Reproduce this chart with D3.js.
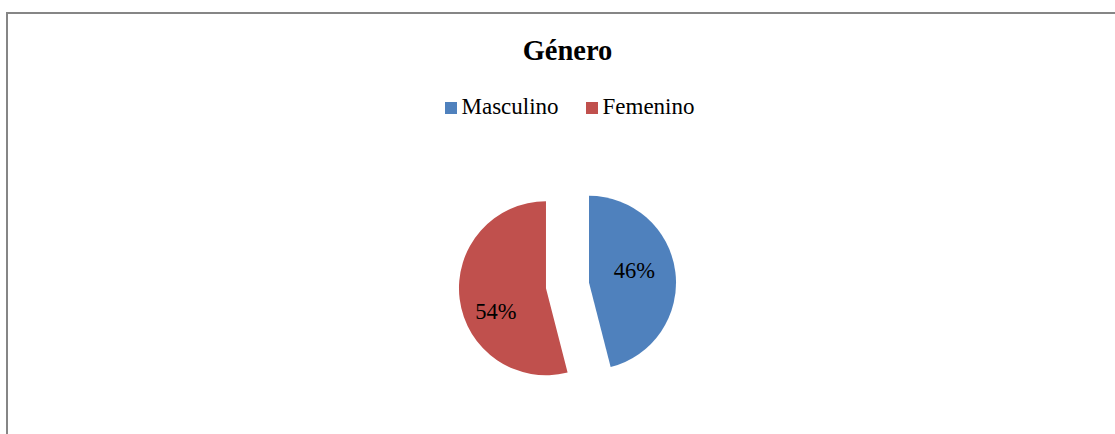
<!DOCTYPE html>
<html>
<head>
<meta charset="utf-8">
<script src="https://cdn.jsdelivr.net/npm/d3@7"></script>
<style>
  html, body { margin: 0; padding: 0; background: #fff; }
  text { font-family: 'Liberation Serif', 'Times New Roman', Times, serif; }
</style>
</head>
<body>
<svg id="chart"></svg>
<script>
const categories = ['Masculino', 'Femenino']
const values = [46, 54]
const colors = ['#4F81BD', '#C0504D']
const title = 'Género'

const width = 1115, height = 434

const svg = d3.select('#chart')
  .attr('width', width)
  .attr('height', height)

// chart frame (only top and left edges fall inside the picture)
svg.append('rect')
  .attr('x', 7).attr('y', 13)
  .attr('width', width + 10).attr('height', height + 10)
  .attr('fill', 'none')
  .attr('stroke', '#868686')
  .attr('stroke-width', 2)

svg.append('text')
  .attr('x', 567.5).attr('y', 60)
  .attr('text-anchor', 'middle')
  .style('font-weight', 'bold')
  .style('font-size', '28.5px')
  .text(title)

// legend
const legendX = [445, 586]
const legend = svg.selectAll('g.legend')
  .data(categories)
  .join('g')
  .attr('class', 'legend')
  .attr('transform', (d, i) => `translate(${legendX[i]}, 102)`)

legend.append('rect')
  .attr('width', 12).attr('height', 12)
  .attr('fill', (d, i) => colors[i])

legend.append('text')
  .attr('x', 16.5).attr('y', 11.5)
  .style('font-size', '23px')
  .text(d => d)

// pie, both slices pulled out
const cx = 567.5, cy = 285.5, r = 87, explode = 21.7
const pie = d3.pie().sort(null).value(d => d)
const arc = d3.arc().innerRadius(0).outerRadius(r)
const arcs = pie(values)

const slices = svg.append('g')
  .attr('transform', `translate(${cx}, ${cy})`)
  .selectAll('g')
  .data(arcs)
  .join('g')
  .attr('transform', d => {
    const a = (d.startAngle + d.endAngle) / 2
    return `translate(${Math.sin(a) * explode}, ${-Math.cos(a) * explode})`
  })

slices.append('path')
  .attr('d', arc)
  .attr('fill', (d, i) => colors[i])

// label placement tweaks (radius fraction, angle shift in degrees)
const labelRad = [0.54, 0.63]
const labelShift = [-8, -17]
slices.append('text')
  .attr('transform', (d, i) => {
    const a = (d.startAngle + d.endAngle) / 2 + labelShift[i] * Math.PI / 180
    const rr = r * labelRad[i]
    return `translate(${Math.sin(a) * rr}, ${-Math.cos(a) * rr})`
  })
  .attr('text-anchor', 'middle')
  .attr('dy', '0.35em')
  .style('font-size', '22.5px')
  .text(d => d.data + '%')
</script>
</body>
</html>
